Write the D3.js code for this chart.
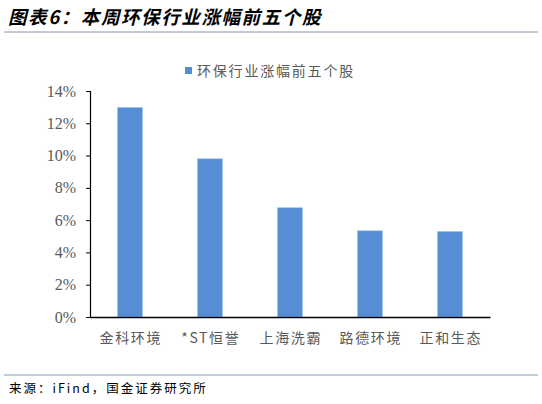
<!DOCTYPE html>
<html><head><meta charset="utf-8">
<script src="https://cdn.jsdelivr.net/npm/d3@7"></script>
<style>body{margin:0;background:#fff}svg{display:block}</style>
</head><body>
<script>
const categories = ["金科环境","*ST恒誉","上海洗霸","路德环境","正和生态"];
const values = [12.98, 9.80, 6.77, 5.34, 5.30];
const yTicks = [0,2,4,6,8,10,12,14];
const seriesName = "环保行业涨幅前五个股";
const title = "图表6：本周环保行业涨幅前五个股";
const source = "来源：iFind，国金证券研究所";

const W = 542, H = 404;
const svg = d3.select("body").append("svg").attr("width", W).attr("height", H);
const cjk = "'Noto Sans CJK SC', sans-serif";
const serif = "'Liberation Serif','Times New Roman',serif";

svg.append("text").attr("x", 8).attr("y", 24).text(title)
  .attr("font-family", cjk).attr("font-size", 18.5).attr("font-weight", "bold")
  .attr("letter-spacing", 1.6)
  .attr("font-style", "italic").attr("fill", "#000");
svg.append("line").attr("x1", 4).attr("x2", 538).attr("y1", 32).attr("y2", 32)
  .attr("stroke", "#8497b0").attr("stroke-width", 1);

const x = d3.scaleBand().domain(categories).range([90, 490]).paddingInner(0.6875).paddingOuter(0.34375);
const y = d3.scaleLinear().domain([0, 14]).range([317, 91]);

svg.selectAll("rect.bar").data(values).join("rect").attr("class","bar")
  .attr("x", (d,i) => x(categories[i])).attr("width", x.bandwidth())
  .attr("y", d => y(d)).attr("height", d => y(0) - y(d))
  .attr("fill", "#558ed5").attr("stroke", "#a9c4ea").attr("stroke-width", 0.6);

const yAxis = svg.append("g").attr("transform", "translate(90,0)")
  .call(d3.axisLeft(y).tickValues(yTicks).tickSize(4).tickFormat(d => d + "%"));
yAxis.select(".domain").attr("stroke", "#000").attr("stroke-width", 1.2);
yAxis.selectAll(".tick line").attr("stroke", "#000");
yAxis.selectAll(".tick text").attr("x", -14).attr("font-family", serif).attr("font-size", 16).attr("fill", "#595959");

const xAxis = svg.append("g").attr("transform", "translate(0,317)")
  .call(d3.axisBottom(x).tickSize(0).tickSizeOuter(0));
xAxis.select(".domain").attr("stroke", "#000").attr("stroke-width", 1.5);
xAxis.selectAll(".tick text").attr("dy", 0).attr("y", 26).attr("dx", 0.8)
  .attr("letter-spacing", 1.6).attr("font-family", cjk).attr("font-size", 14).attr("fill", "#595959");

svg.append("rect").attr("x", 185).attr("y", 67).attr("width", 7).attr("height", 7).attr("fill", "#558ed5");
svg.append("text").attr("x", 197).attr("y", 76).text(seriesName)
  .attr("letter-spacing", 1.8)
  .attr("font-family", cjk).attr("font-size", 14).attr("fill", "#595959");

svg.append("line").attr("x1", 4).attr("x2", 538).attr("y1", 375).attr("y2", 375)
  .attr("stroke", "#8497b0").attr("stroke-width", 1);
svg.append("text").attr("x", 9).attr("y", 393).text(source)
  .attr("letter-spacing", 2)
  .attr("font-family", cjk).attr("font-size", 12.5).attr("fill", "#000");
</script>
</body></html>
